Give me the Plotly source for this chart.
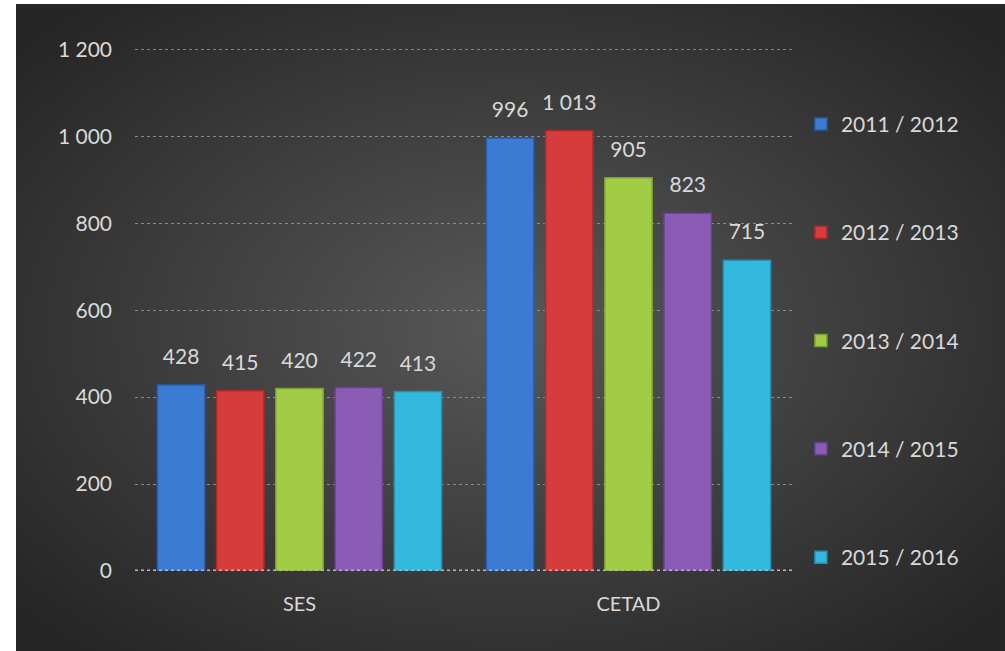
import base64
import plotly.graph_objects as go

categorias = ["SES", "CETAD"]
anos = ["2011 / 2012", "2012 / 2013", "2013 / 2014", "2014 / 2015", "2015 / 2016"]
valores = {
    "2011 / 2012": [428, 996],
    "2012 / 2013": [415, 1013],
    "2013 / 2014": [420, 905],
    "2014 / 2015": [422, 823],
    "2015 / 2016": [413, 715],
}
cores = ["#3b7bd4", "#d63c3c", "#a2cc46", "#8a5cb6", "#33b9dd"]
bordas = ["#2a5ea8", "#a82c2c", "#7ca232", "#6a428f", "#2290b0"]
yticks = [0, 200, 400, 600, 800, 1000, 1200]

fonte = "Lato, 'Open Sans', sans-serif"
folga_rotulo = 32  # espaco entre a barra e o rotulo, em unidades do eixo y

# fundo com degrade radial (como no Excel)
svg = """<svg xmlns='http://www.w3.org/2000/svg' width='989' height='647' preserveAspectRatio='none'>
<defs><radialGradient id='g' cx='0.5' cy='0.5' r='0.65'>
<stop offset='0' stop-color='#585858'/><stop offset='1' stop-color='#262626'/>
</radialGradient></defs>
<rect width='989' height='647' fill='url(#g)'/></svg>"""
fundo = "data:image/svg+xml;base64," + base64.b64encode(svg.encode()).decode()

def fmt(v):
    return f"{v:,}".replace(",", " ")

fig = go.Figure()
for i, ano in enumerate(anos):
    fig.add_trace(go.Bar(
        x=categorias, y=valores[ano], name=ano, offsetgroup=str(i),
        marker=dict(color=cores[i], line=dict(color=bordas[i], width=1.5)),
        legendgroup=ano, hoverinfo="x+y+name",
    ))
    # barra invisivel so para posicionar o rotulo um pouco acima
    fig.add_trace(go.Bar(
        x=categorias, y=[folga_rotulo] * len(categorias), base=valores[ano],
        offsetgroup=str(i),
        marker=dict(color="rgba(0,0,0,0)", line=dict(width=0)),
        text=[fmt(v) for v in valores[ano]], textposition="outside",
        constraintext="none",
        textfont=dict(color="#d9d9d9", size=21, family=fonte),
        cliponaxis=False, showlegend=False, hoverinfo="skip", legendgroup=ano,
    ))

W, H = 1005, 651
ml, mr, mt, mb = 135, 212, 49, 80
pw, ph = W - ml - mr, H - mt - mb

fig.update_layout(
    width=W, height=H,
    margin=dict(l=ml, r=mr, t=mt, b=mb),
    paper_bgcolor="white", plot_bgcolor="rgba(0,0,0,0)",
    barmode="group", bargap=0.10, bargroupgap=0.2,
    separators=". ",
    font=dict(family=fonte, color="#d9d9d9"),
    showlegend=True,
    legend=dict(x=1.012, y=0.895, xanchor="left", yanchor="top",
                font=dict(size=21, color="#d9d9d9"), traceorder="grouped",
                tracegroupgap=78, itemwidth=30, bgcolor="rgba(0,0,0,0)"),
    images=[dict(source=fundo, xref="paper", yref="paper",
                 x=(16 - ml) / pw, y=(H - mb - 4) / ph,
                 sizex=(W - 16) / pw, sizey=(H - 4) / ph,
                 xanchor="left", yanchor="top", sizing="stretch", layer="below")],
    shapes=[
        # linha de grade do topo (o plotly omite a da borda)
        dict(type="line", xref="paper", yref="y", x0=0, x1=1, y0=yticks[-1], y1=yticks[-1],
             line=dict(color="#8a8a8a", width=1, dash="dot"), layer="below"),
        dict(type="line", xref="paper", yref="y", x0=0, x1=1, y0=0, y1=0,
             line=dict(color="#b8b8b8", width=3, dash="dot"), layer="above"),
    ],
)
fig.update_xaxes(tickfont=dict(size=20, color="#d9d9d9"), showgrid=False,
                 showline=False, ticks="", ticklabelstandoff=19)
fig.update_yaxes(range=[0, 1201], tickvals=yticks, separatethousands=True,
                 tickfont=dict(size=21, color="#d9d9d9"), showgrid=True,
                 gridcolor="#8a8a8a", griddash="dot", gridwidth=1,
                 zeroline=False, ticks="", ticklabelstandoff=22)

fig.write_html("out.html", config={"displayModeBar": False},
               post_script="document.body.style.margin='0px';")
